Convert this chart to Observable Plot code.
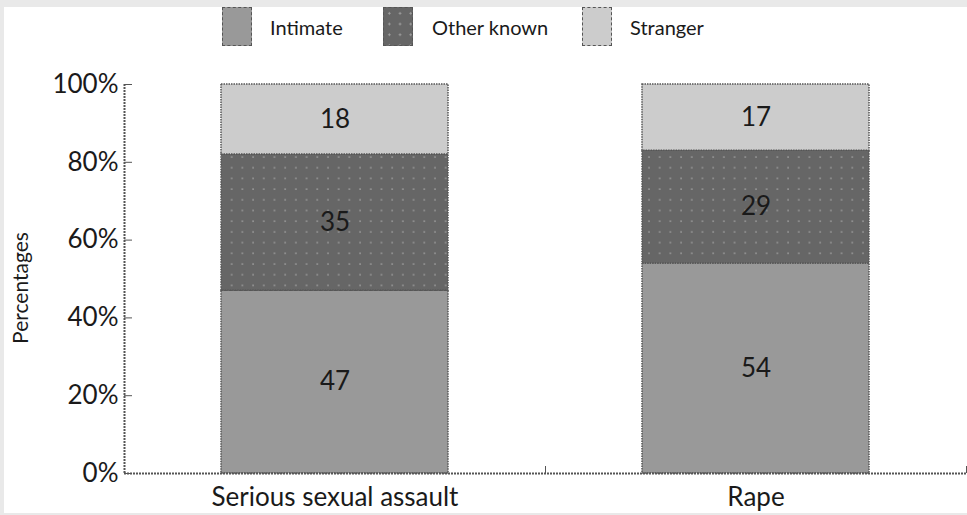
<!DOCTYPE html>
<html><head><meta charset="utf-8">
<script src="https://cdn.jsdelivr.net/npm/d3@7"></script>
<script src="https://cdn.jsdelivr.net/npm/@observablehq/plot@0.6"></script>
<style>
html,body{margin:0;padding:0;background:#e9e9e9;}
#frame{position:absolute;left:4px;top:7px;width:963px;height:506px;background:#fff;overflow:hidden;font-family:Lato,sans-serif;color:#1a1a1a;}
#legend{position:relative;height:40px;}
.sw{position:absolute;top:0;width:30px;height:39px;box-sizing:border-box;border:1px dashed #555;}
.lab{position:absolute;top:0;line-height:40px;font-size:20px;}
#chart svg{display:block;}
</style></head><body>
<div id="frame"><div id="legend"></div><div id="chart"></div></div>
<script>
const categories = ["Serious sexual assault", "Rape"];
const relations = ["Intimate", "Other known", "Stranger"];
const intimate = [47, 54];
const otherKnown = [35, 29];
const stranger = [18, 17];
const yTicks = [0, 20, 40, 60, 80, 100];
const fills = ["#999999", "url(#dots)", "#cccccc"];
const legendFills = ["#999999", "#666666", "#cccccc"];

const series = [intimate, otherKnown, stranger];
const rows = [];
categories.forEach((c, i) => {
  relations.forEach((r, j) => rows.push({category: c, idx: i, relation: r, value: series[j][i]}));
});

// legend
const legendPos = [[218, 266], [379, 428], [578, 626]];
const legend = d3.select("#legend");
relations.forEach((r, j) => {
  const sw = legend.append("div").attr("class", "sw")
    .style("left", legendPos[j][0] + "px")
    .style("background-color", legendFills[j]);
  if (j === 1) {
    sw.style("background-image", "radial-gradient(circle, #a0a0a0 0.9px, transparent 1.3px)")
      .style("background-size", "10.7px 10.7px");
  }
  legend.append("div").attr("class", "lab").style("left", legendPos[j][1] + "px").text(r);
});

const axisStroke = "#555";
const plot = Plot.plot({
  width: 963,
  height: 466,
  marginLeft: 120,
  marginRight: 1,
  marginTop: 37,
  marginBottom: 40,
  style: {fontFamily: "Lato, sans-serif", fontSize: "26px", color: "#1a1a1a", background: "transparent", overflow: "visible"},
  x: {type: "linear", domain: [0, categories.length]},
  y: {domain: [0, 100]},
  color: {domain: relations, range: fills},
  marks: [
    Plot.rectY(rows, Plot.stackY({
      x1: "idx", x2: d => d.idx + 1, y: "value", fill: "relation",
      stroke: axisStroke, strokeWidth: 1.5, strokeDasharray: "1.5,1",
      insetLeft: 97, insetRight: 97
    })),
    Plot.text(rows, Plot.stackY({x: d => d.idx + 0.5, y: "value", text: "value", fontSize: 26, fill: "#1a1a1a"})),
    Plot.ruleY([0], {stroke: axisStroke, strokeWidth: 2, strokeDasharray: "2,1"}),
    Plot.ruleX([0], {stroke: axisStroke, strokeWidth: 2, strokeDasharray: "2,1"}),
    Plot.axisY({ticks: yTicks, tickFormat: d => d + "%", tickSize: -8, tickPadding: 14, label: null, stroke: axisStroke}),
    Plot.axisX({ticks: d3.range(1, categories.length + 1), tickSize: -7, tickFormat: () => "", label: null, stroke: axisStroke}),
    Plot.axisX({ticks: categories.map((c, i) => i + 0.5), tickFormat: v => categories[Math.round(v - 0.5)], tickSize: 0, tickPadding: 14, label: null}),
    Plot.text(["Percentages"], {frameAnchor: "left", textAnchor: "middle", rotate: -90, dx: -103, dy: 9, fontSize: 21, fill: "#1a1a1a"})
  ]
});

const svg = d3.select(plot);
const defs = svg.insert("defs", ":first-child");
const pat = defs.append("pattern").attr("id", "dots").attr("patternUnits", "userSpaceOnUse")
  .attr("width", 10.7).attr("height", 10.7);
pat.append("rect").attr("width", 10.7).attr("height", 10.7).attr("fill", "#666666");
pat.append("circle").attr("cx", 3).attr("cy", 3).attr("r", 0.9).attr("fill", "#a0a0a0");

document.getElementById("chart").appendChild(plot);
</script>
</body></html>
